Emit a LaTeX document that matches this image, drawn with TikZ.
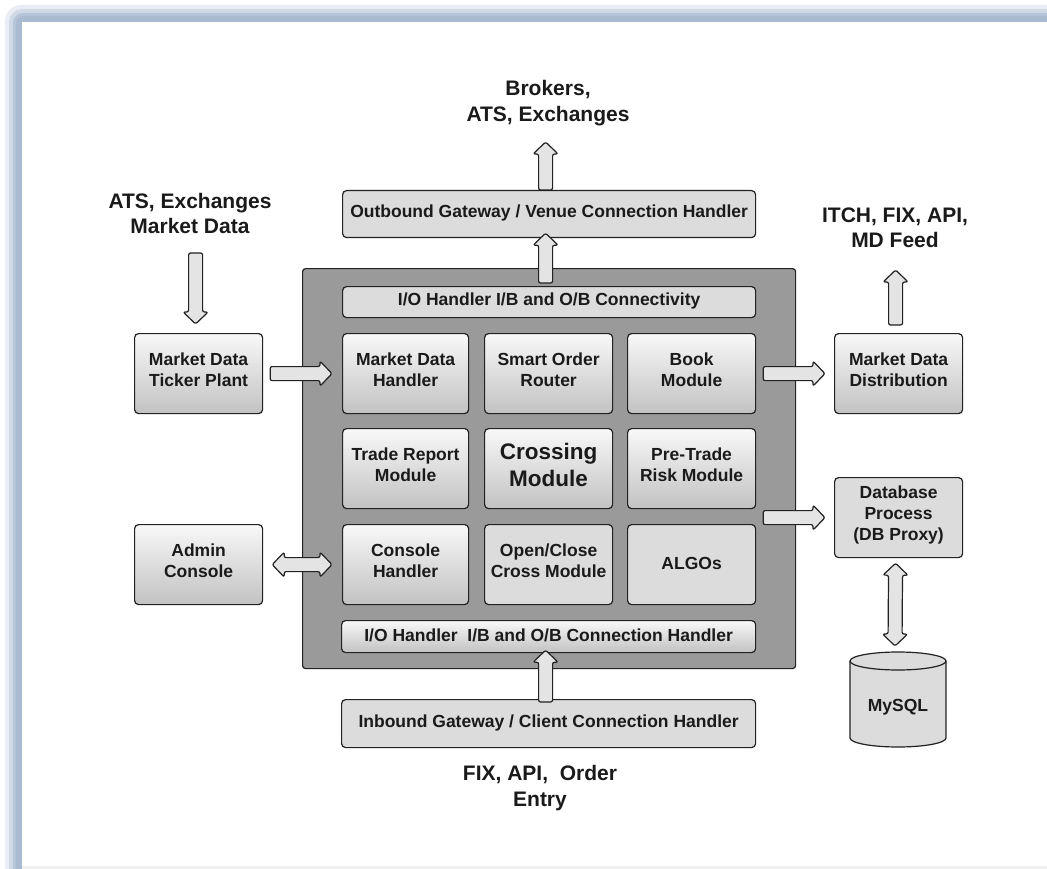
\documentclass[tikz,border=0pt]{standalone}
\usepackage{fontspec}
\setmainfont{Liberation Sans}
\usetikzlibrary{calc}
\definecolor{edge}{HTML}{222222}
\definecolor{txt}{HTML}{1A1A1A}
\definecolor{gtop}{HTML}{F8F8F8}
\definecolor{gbot}{HTML}{C2C2C2}
\definecolor{flatc}{HTML}{DCDCDC}
\definecolor{contc}{HTML}{9A9A9A}
\definecolor{arrc}{HTML}{E4E4E4}
\definecolor{shadc}{HTML}{A9BBD1}
\newcommand\boxfont{\fontsize{17.5}{21}\selectfont\bfseries}
\newcommand\bigboxfont{\fontsize{22.5}{27}\selectfont\bfseries}
\newcommand\lblfont{\fontsize{21}{25.5}\selectfont\bfseries}
\newdimen\BAxa \newdimen\BAya \newdimen\BAxb \newdimen\BAyb
% box with its text: [style]{name}{top-left}{width}{height}{text shift up}{text}
\newcommand\bx[7][grad]{%
  \node[#1, minimum width=#4pt, minimum height=#5pt] (#2) at (#3) {};
  \node[boxtext] (#2-t) at ($(#2.center)+(0,-#6)$) {#7};
}
% single block arrow between two named coordinates
\newcommand\blockarr[3][]{%
  \pgfextractx{\BAxa}{\pgfpointanchor{#2}{center}}%
  \pgfextracty{\BAya}{\pgfpointanchor{#2}{center}}%
  \pgfextractx{\BAxb}{\pgfpointanchor{#3}{center}}%
  \pgfextracty{\BAyb}{\pgfpointanchor{#3}{center}}%
  \pgfmathsetmacro\BAl{veclen(\BAxb-\BAxa,\BAyb-\BAya)}%
  \pgfmathsetmacro\BAa{atan2(\BAyb-\BAya,\BAxb-\BAxa)}%
  \draw[blockarrow,#1,shift={(\the\BAxa,\the\BAya)},rotate=\BAa]
    (0pt,7pt) -- ({\BAl pt-12pt},7pt) -- ({\BAl pt-12pt},12.5pt) -- (\BAl pt,0pt)
    -- ({\BAl pt-12pt},-12.5pt) -- ({\BAl pt-12pt},-7pt) -- (0pt,-7pt) -- cycle;
}
% double block arrow
\newcommand\blockdarr[3][]{%
  \pgfextractx{\BAxa}{\pgfpointanchor{#2}{center}}%
  \pgfextracty{\BAya}{\pgfpointanchor{#2}{center}}%
  \pgfextractx{\BAxb}{\pgfpointanchor{#3}{center}}%
  \pgfextracty{\BAyb}{\pgfpointanchor{#3}{center}}%
  \pgfmathsetmacro\BAl{veclen(\BAxb-\BAxa,\BAyb-\BAya)}%
  \pgfmathsetmacro\BAa{atan2(\BAyb-\BAya,\BAxb-\BAxa)}%
  \draw[blockarrow,#1,shift={(\the\BAxa,\the\BAya)},rotate=\BAa]
    (12pt,7pt) -- ({\BAl pt-12pt},7pt) -- ({\BAl pt-12pt},12.5pt) -- (\BAl pt,0pt)
    -- ({\BAl pt-12pt},-12.5pt) -- ({\BAl pt-12pt},-7pt) -- (12pt,-7pt)
    -- (12pt,-12.5pt) -- (0pt,0pt) -- (12pt,12.5pt) -- cycle;
}
\begin{document}
\begin{tikzpicture}[x=1pt,y=-1pt,
  box/.style={draw=edge, line width=1.2pt, rounded corners=4pt, inner sep=0pt, anchor=north west},
  grad/.style={box, top color=gtop, bottom color=gbot},
  flat/.style={box, fill=flatc},
  boxtext/.style={align=center, text=txt, font=\boxfont, inner sep=0pt},
  lbl/.style={align=center, text=txt, font=\lblfont, inner sep=0pt},
  blockarrow/.style={draw=edge, line width=1.2pt, fill=arrc, rounded corners=2pt, line join=round}]
\useasboundingbox (0,0) rectangle (1047,869);
% page frame with soft shadow
\fill[white] (0,0) rectangle (1047,869);
\fill[shadc!25, rounded corners=16pt] (5,5) rectangle (1070,890);
\fill[shadc!55, rounded corners=13pt] (9,9) rectangle (1070,890);
\fill[shadc!85, rounded corners=10pt] (13,13) rectangle (1070,890);
\fill[shadc, rounded corners=8pt] (16,16) rectangle (1070,890);
\fill[white] (22,22) rectangle (1070,866);
\fill[black!6] (22,866) rectangle (1070,869);

% container
\node[draw=edge, line width=1.2pt, fill=contc, rounded corners=3pt, anchor=north west,
  minimum width=493pt, minimum height=400pt, inner sep=0pt] (cont) at (302,268) {};

% boxes
\bx[flat]{outg}{342,190}{413}{47}{1}{Outbound Gateway / Venue Connection Handler}
\bx[flat]{iot}{342,286}{413}{31}{1}{I/O Handler I/B and O/B Connectivity}
\bx{mdh}{342,333}{126}{80}{4}{Market Data\\Handler}
\bx{sor}{484,333}{128}{80}{4}{Smart Order\\Router}
\bx{book}{627,333}{128}{80}{4}{Book\\Module}
\bx{trm}{342,428}{126}{80}{4}{Trade Report\\Module}
\node[grad, minimum width=128pt, minimum height=80pt] (cross) at (484,428) {};
\node[boxtext, font=\bigboxfont] (cross-t) at ($(cross.center)+(0,-3.5)$) {Crossing\\Module};
\bx{ptr}{627,428}{128}{80}{4}{Pre-Trade\\Risk Module}
\bx{ch}{342,524}{126}{80}{4}{Console\\Handler}
\bx[flat]{occ}{484,524}{128}{80}{4}{Open/Close\\Cross Module}
\bx[flat]{algo}{627,524}{128}{80}{1}{ALGOs}
\bx{iob}{341,620}{414}{32}{1}{I/O Handler\ \ I/B and O/B Connection Handler}
\bx[flat]{ing}{341,699}{414}{48}{1}{Inbound Gateway / Client Connection Handler}
\bx{tp}{134,333}{128}{80}{4}{Market Data\\Ticker Plant}
\bx{ac}{134,524}{128}{80}{4}{Admin\\Console}
\bx{mdd}{834,333}{128}{80}{4}{Market Data\\Distribution}
\bx[flat]{db}{834,477}{128}{80}{2.5}{Database\\Process\\(DB Proxy)}

% MySQL cylinder
\draw[draw=edge, line width=1.2pt, fill=flatc]
  (850,661) -- (850,738) arc[start angle=180, end angle=360, x radius=48pt, y radius=9pt]
  -- (946,661) arc[start angle=0, end angle=180, x radius=48pt, y radius=9pt] -- cycle;
\draw[draw=edge, line width=1.2pt]
  (850,661) arc[start angle=180, end angle=360, x radius=48pt, y radius=9pt];
\node[boxtext] (mysql) at (898,707) {MySQL};
\coordinate (mysqltop) at (898,652);

% outer labels
\node[lbl] (brk) at (548,103) {Brokers,\\ATS, Exchanges};
\node[lbl] (amd) at (190,213.5) {ATS, Exchanges\\Market Data};
\node[lbl] (itch) at (895,228) {ITCH, FIX, API,\\MD Feed};
\node[lbl] (fix) at (540,788) {FIX, API,\ \ Order\\Entry};

% arrow end points
\coordinate (u1a) at ($(outg.north)+(-3.5,0)$);
\coordinate (u1b) at ($(u1a)+(0,-48)$);
\coordinate (u2a) at ($(iot.north)+(-3.5,-3)$);
\coordinate (u2b) at ($(outg.south)+(-3.5,-5)$);
\coordinate (u3a) at ($(ing.north)+(-3,3)$);
\coordinate (u3b) at ($(iob.south)+(-3,-3)$);
\coordinate (r1a) at ($(tp.east)+(7,0)$);
\coordinate (r1b) at ($(mdh.west)+(-10,0)$);
\coordinate (d1a) at ($(ac.east)+(9,0)$);
\coordinate (d1b) at ($(ch.west)+(-10,0)$);
\coordinate (r2a) at ($(book.east)+(7,0)$);
\coordinate (r2b) at ($(mdd.west)+(-9,0)$);
\coordinate (r3a) at ($(book.east |- db.west)+(7,0)$);
\coordinate (r3b) at ($(db.west)+(-9,0)$);
\coordinate (u4a) at ($(mdd.north)+(-3,-8)$);
\coordinate (u4b) at ($(u4a)+(0,-55)$);
\coordinate (dn1a) at ($(tp.north)+(-3,-80)$);
\coordinate (dn1b) at ($(tp.north)+(-3,-9)$);
\coordinate (d2a) at ($(db.south)+(-3,5)$);
\coordinate (d2b) at ($(mysqltop)+(-3,-6)$);

% block arrows
\blockarr{u1a}{u1b}
\blockarr{u2a}{u2b}
\blockarr{u3a}{u3b}
\blockarr{r1a}{r1b}
\blockdarr{d1a}{d1b}
\blockarr{r2a}{r2b}
\blockarr{r3a}{r3b}
\blockarr{u4a}{u4b}
\blockarr{dn1a}{dn1b}
\blockdarr{d2a}{d2b}
\end{tikzpicture}
\end{document}
